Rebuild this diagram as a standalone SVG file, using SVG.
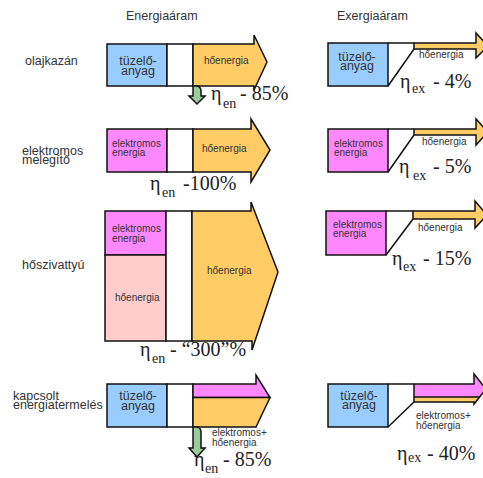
<svg xmlns="http://www.w3.org/2000/svg" width="483" height="478" viewBox="0 0 483 478">
<style>
.bg{fill:#fff}
.s{stroke:#111;stroke-width:1.5;stroke-linejoin:miter}
.blue{fill:#99ccff}
.pink{fill:#ff88ff}
.org{fill:#ffcc66}
.sal{fill:#ffcccc}
.wht{fill:#fff}
.grn{fill:#99cc99}
.ln{fill:none;stroke:#111;stroke-width:1.5}
.lab{font-family:"Liberation Sans",Arial,sans-serif;font-size:12.5px;fill:#333}
.box{font-family:"Liberation Sans",Arial,sans-serif;font-size:12.5px;fill:#333;text-anchor:middle}
.sm{font-family:"Liberation Sans",Arial,sans-serif;font-size:10px;fill:#333}
.eta{font-family:"Liberation Serif","DejaVu Serif","Times New Roman",serif;font-size:20px;fill:#222}
.sub{font-size:14px}
</style>
<rect class="bg" width="483" height="478"/>

<g id="headers">
<text class="lab" x="126" y="19.5">Energiaáram</text>
<text class="lab" x="337" y="19.5">Exergiaáram</text>
</g>

<g id="labels">
<text class="lab" x="25" y="64.5">olajkazán</text>
<text class="lab" x="22" y="155">elektromos</text>
<text class="lab" x="22" y="164">melegítő</text>
<text class="lab" x="22" y="269">hőszivattyú</text>
<text class="lab" x="13" y="399.5">kapcsolt</text>
<text class="lab" x="13" y="408.5">energiatermelés</text>
</g>

<g id="connectors">
<polyline class="ln" points="388,43 414,43"/>
<line class="ln" x1="388" y1="86" x2="414" y2="49"/>
<polyline class="ln" points="388,129 414,129"/>
<line class="ln" x1="388" y1="172" x2="414" y2="135"/>
<polyline class="ln" points="386,211 413,211"/>
<line class="ln" x1="386" y1="255" x2="413" y2="219"/>
<polyline class="ln" points="388,384 414,384"/>
<line class="ln" x1="388" y1="427" x2="414" y2="402"/>
</g>

<g id="row1-energy">
<rect class="blue s" x="107" y="44" width="60" height="42"/>
<rect class="wht s" x="167" y="44" width="26" height="42"/>
<polygon class="org s" points="193,44 254,44 254,35 267,62 254,90 254,86 193,86"/>
<path class="grn s" d="M193,86 L197,86 Q201,87 201,91 L201,96 L205,96 L197,104 L189,96 L193,96 Z"/>
<text class="box" x="138" y="64.5">tüzelő-</text>
<text class="box" x="138" y="74.5">anyag</text>
<text class="sm" x="204" y="64">hőenergia</text>
<text class="eta" font-family="Liberation Serif, DejaVu Serif, serif" x="211" y="100">η<tspan class="sub" x="223" y="107.5">en</tspan><tspan x="240" y="100">- 85%</tspan></text>
</g>

<g id="row1-exergy">
<rect class="blue s" x="328" y="43" width="60" height="43"/>
<polygon class="org s" points="414,43 476,43 476,33 488,46 476,58 476,49 414,49"/>
<text class="box" x="357" y="60.5">tüzelő-</text>
<text class="box" x="357" y="70">anyag</text>
<text class="sm" x="419" y="57.5">hőenergia</text>
<text class="eta" font-family="Liberation Serif, DejaVu Serif, serif" x="400" y="88">η<tspan class="sub" x="412" y="93">ex</tspan><tspan x="433" y="88">- 4%</tspan></text>
</g>

<g id="row2-energy">
<rect class="pink s" x="107" y="129" width="60" height="43"/>
<rect class="wht s" x="167" y="129" width="26" height="43"/>
<polygon class="org s" points="193,129 251,129 251,119 270,150 251,182 251,172 193,172"/>
<text class="sm" x="112" y="147">elektromos</text>
<text class="sm" x="112" y="156">energia</text>
<text class="sm" x="202" y="151.5">hőenergia</text>
<text class="eta" font-family="Liberation Serif, DejaVu Serif, serif" x="150" y="190">η<tspan class="sub" x="162" y="197">en</tspan><tspan x="183" y="190">-100%</tspan></text>
</g>

<g id="row2-exergy">
<rect class="pink s" x="328" y="129" width="60" height="43"/>
<polygon class="org s" points="414,129 476,129 476,119 488,132 476,145 476,135 414,135"/>
<text class="sm" x="334" y="147">elektromos</text>
<text class="sm" x="334" y="156">energia</text>
<text class="sm" x="422" y="145">hőenergia</text>
<text class="eta" font-family="Liberation Serif, DejaVu Serif, serif" x="399" y="173">η<tspan class="sub" x="413" y="180">ex</tspan><tspan x="433" y="173">- 5%</tspan></text>
</g>

<g id="row3-energy">
<rect class="pink s" x="105" y="211" width="61" height="44"/>
<rect class="sal s" x="105" y="255" width="61" height="86"/>
<rect class="wht s" x="166" y="211" width="26" height="130"/>
<polygon class="org s" points="192,211 251,211 251,202 278,272 252,350 252,341 192,341"/>
<text class="sm" x="112" y="232">elektromos</text>
<text class="sm" x="112" y="241.5">energia</text>
<text class="sm" x="115" y="301">hőenergia</text>
<text class="sm" x="207" y="274">hőenergia</text>
<text class="eta" font-family="Liberation Serif, DejaVu Serif, serif" x="140" y="356">η<tspan class="sub" x="152" y="363">en</tspan><tspan x="170" y="356">- “300”%</tspan></text>
</g>

<g id="row3-exergy">
<rect class="pink s" x="326" y="211" width="60" height="44"/>
<polygon class="org s" points="413,211 475,211 475,201 487,215 475,228 475,219 413,219"/>
<text class="sm" x="333" y="228">elektromos</text>
<text class="sm" x="333" y="237">energia</text>
<text class="sm" x="418" y="231">hőenergia</text>
<text class="eta" font-family="Liberation Serif, DejaVu Serif, serif" x="392" y="265">η<tspan class="sub" x="403" y="271">ex</tspan><tspan x="423" y="265">- 15%</tspan></text>
</g>

<g id="row4-energy">
<rect class="blue s" x="107" y="384" width="60" height="43"/>
<rect class="wht s" x="167" y="384" width="26" height="43"/>
<polygon class="pink s" points="193,384 256,384 256,375 270,397.5 193,397.5"/>
<polygon class="org s" points="193,397.5 270,397.5 256,427 193,427"/>
<path class="grn s" d="M193,427 L197,427 Q201,428 201,432 L201,448 L205,448 L197,457 L189,448 L193,448 Z"/>
<text class="box" x="138" y="400">tüzelő-</text>
<text class="box" x="138" y="410">anyag</text>
<text class="sm" x="212" y="436">elektromos+</text>
<text class="sm" x="212" y="446">hőenergia</text>
<text class="eta" font-family="Liberation Serif, DejaVu Serif, serif" x="194" y="466">η<tspan class="sub" x="205" y="473">en</tspan><tspan x="223" y="466">- 85%</tspan></text>
</g>

<g id="row4-exergy">
<rect class="blue s" x="328" y="384" width="60" height="43"/>
<polygon class="pink" points="414,384 474,384 474,374 486,389 479.6,397 414,397"/>
<polygon class="org" points="414,397 479.6,397 474,404 474,402 414,402"/>
<line class="ln" x1="414" y1="397" x2="479.6" y2="397"/>
<polygon class="ln" points="414,384 474,384 474,374 486,389 474,404 474,402 414,402"/>
<text class="box" x="359" y="399.5">tüzelő-</text>
<text class="box" x="359" y="409">anyag</text>
<text class="sm" x="416" y="419">elektromos+</text>
<text class="sm" x="416" y="428.5">hőenergia</text>
<text class="eta" font-family="Liberation Serif, DejaVu Serif, serif" x="397" y="460">η<tspan class="sub" x="408" y="462">ex</tspan><tspan x="427" y="460">- 40%</tspan></text>
</g>
</svg>
